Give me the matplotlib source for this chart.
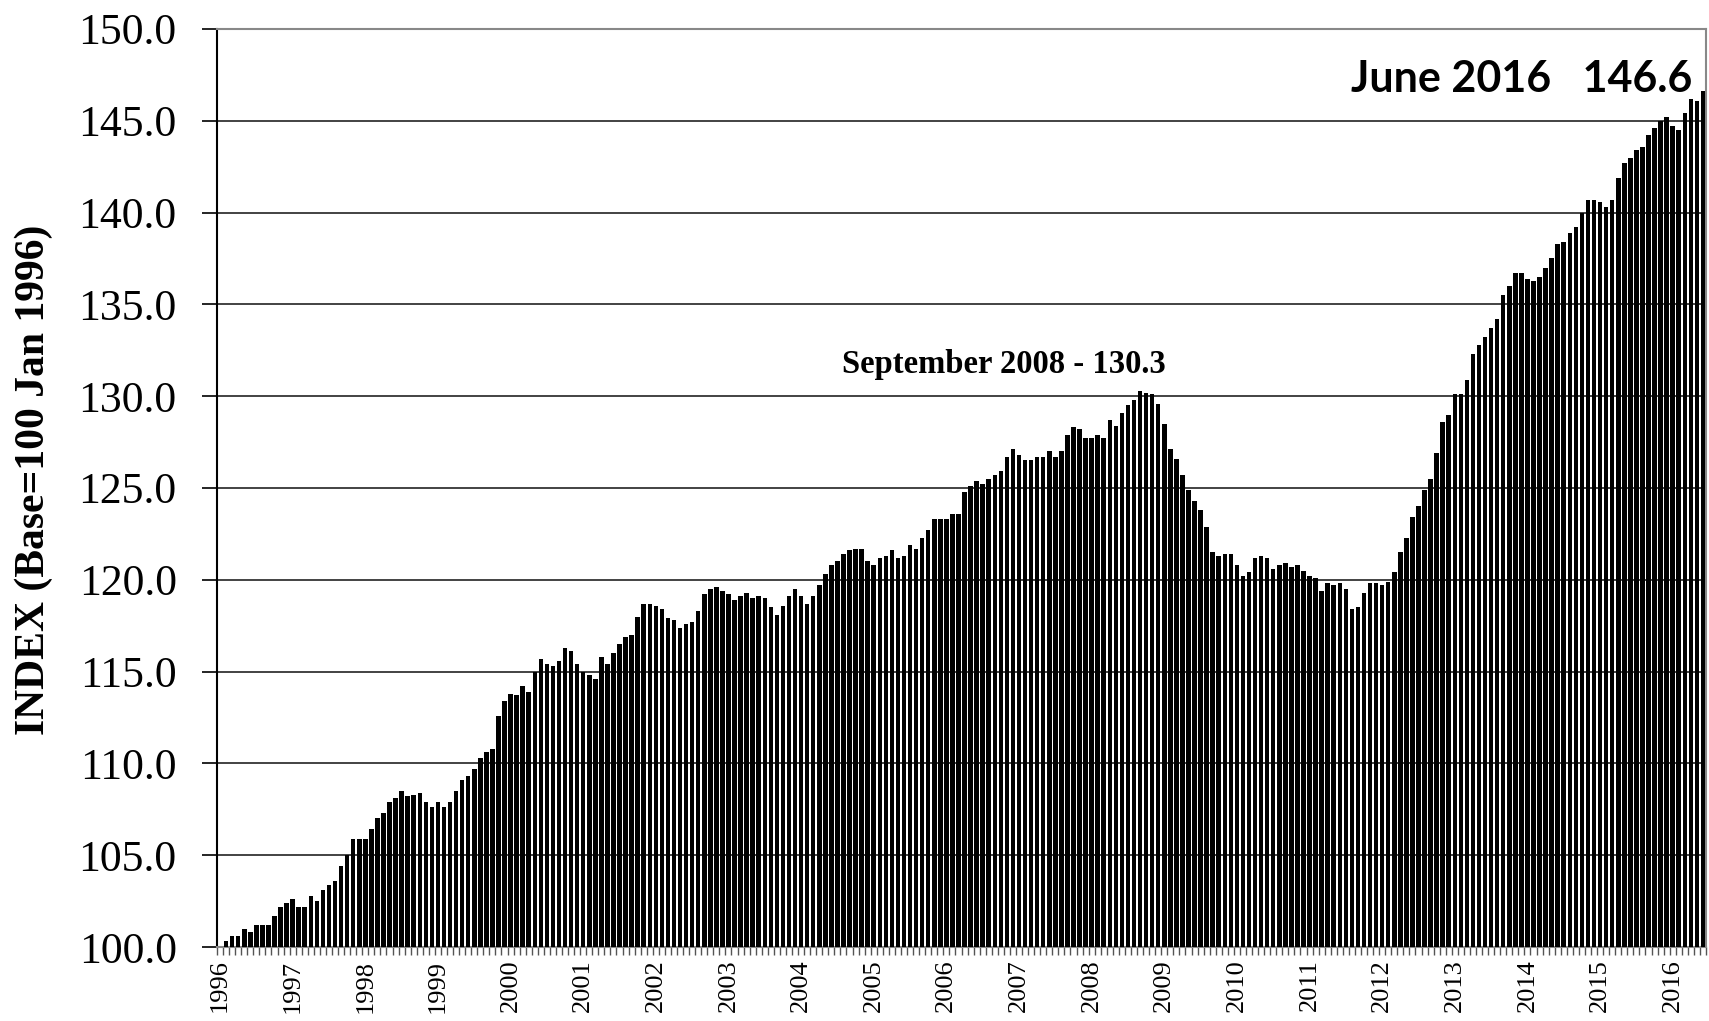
import numpy as np
import matplotlib
matplotlib.use('Agg')
import matplotlib.pyplot as plt
from matplotlib.ticker import FixedLocator, FormatStrFormatter

# monthly index, Jan 1996 .. Jun 2016 (base 100 = Jan 1996)
years = list(range(1996, 2017))
index_values = [
    100.0, 100.3, 100.6, 100.6, 101.0, 100.8, 101.2, 101.2, 101.2, 101.7, 102.2, 102.4,  # 1996
    102.6, 102.2, 102.2, 102.8, 102.5, 103.1, 103.4, 103.6, 104.4, 105.0, 105.9, 105.9,  # 1997
    105.9, 106.4, 107.0, 107.3, 107.9, 108.1, 108.5, 108.2, 108.3, 108.4, 107.9, 107.6,  # 1998
    107.9, 107.6, 107.9, 108.5, 109.1, 109.3, 109.7, 110.3, 110.6, 110.8, 112.6, 113.4,  # 1999
    113.8, 113.7, 114.2, 113.9, 115.0, 115.7, 115.4, 115.3, 115.6, 116.3, 116.1, 115.4,  # 2000
    115.0, 114.8, 114.6, 115.8, 115.4, 116.0, 116.5, 116.9, 117.0, 118.0, 118.7, 118.7,  # 2001
    118.6, 118.4, 117.9, 117.8, 117.4, 117.6, 117.7, 118.3, 119.2, 119.5, 119.6, 119.4,  # 2002
    119.2, 118.9, 119.1, 119.3, 119.0, 119.1, 119.0, 118.5, 118.1, 118.6, 119.1, 119.5,  # 2003
    119.1, 118.7, 119.1, 119.7, 120.3, 120.8, 121.0, 121.4, 121.6, 121.7, 121.7, 121.0,  # 2004
    120.8, 121.2, 121.3, 121.6, 121.2, 121.3, 121.9, 121.7, 122.3, 122.7, 123.3, 123.3,  # 2005
    123.3, 123.6, 123.6, 124.8, 125.1, 125.4, 125.2, 125.5, 125.7, 125.9, 126.7, 127.1,  # 2006
    126.8, 126.5, 126.5, 126.7, 126.7, 127.0, 126.7, 127.0, 127.9, 128.3, 128.2, 127.7,  # 2007
    127.7, 127.9, 127.7, 128.7, 128.4, 129.1, 129.5, 129.8, 130.3, 130.2, 130.1, 129.6,  # 2008
    128.5, 127.1, 126.6, 125.7, 124.9, 124.3, 123.8, 122.9, 121.5, 121.3, 121.4, 121.4,  # 2009
    120.8, 120.2, 120.4, 121.2, 121.3, 121.2, 120.6, 120.8, 120.9, 120.7, 120.8, 120.5,  # 2010
    120.2, 120.1, 119.4, 119.8, 119.7, 119.8, 119.5, 118.4, 118.5, 119.3, 119.8, 119.8,  # 2011
    119.7, 119.9, 120.4, 121.5, 122.3, 123.4, 124.0, 124.9, 125.5, 126.9, 128.6, 129.0,  # 2012
    130.1, 130.1, 130.9, 132.3, 132.8, 133.2, 133.7, 134.2, 135.5, 136.0, 136.7, 136.7,  # 2013
    136.4, 136.3, 136.5, 137.0, 137.5, 138.3, 138.4, 138.9, 139.2, 140.0, 140.7, 140.7,  # 2014
    140.6, 140.3, 140.7, 141.9, 142.7, 143.0, 143.4, 143.6, 144.2, 144.6, 145.0, 145.2,  # 2015
    144.7, 144.5, 145.4, 146.2, 146.1, 146.6,                                              # 2016
]
y_ticks = [100.0, 105.0, 110.0, 115.0, 120.0, 125.0, 130.0, 135.0, 140.0, 145.0, 150.0]

peak_label = 'September 2008 - 130.3'
last_label = 'June 2016   146.6'

serif = ['Liberation Serif', 'DejaVu Serif']

vals = np.array(index_values)
x = np.arange(len(vals))
base = 100.0

fig = plt.figure(figsize=(17.09, 10.21), dpi=100)
ax = fig.add_axes([217 / 1709, 1 - 947 / 1021, 1489 / 1709, 918 / 1021])

ax.bar(x, vals - base, bottom=base, width=0.75, color='black', zorder=3)

ax.set_xlim(-0.5, len(vals) - 0.5)
ax.set_ylim(y_ticks[0], y_ticks[-1])
ax.set_yticks(y_ticks)
ax.yaxis.set_major_formatter(FormatStrFormatter('%.1f'))
ax.grid(axis='y', color='#222222', linewidth=1.2, zorder=0)
ax.set_axisbelow(True)

# year labels at each January, monthly ticks between bars
ax.set_xticks([12 * i for i in range(len(years))])
ax.set_xticklabels([str(y) for y in years], rotation=90, fontsize=19, family=serif)
ax.xaxis.set_minor_locator(FixedLocator(np.arange(-0.5, len(vals), 1.0)))
ax.tick_params(axis='x', which='major', length=0, pad=9)
ax.tick_params(axis='x', which='minor', length=6, width=1, color='#555555')
ax.tick_params(axis='y', length=11, width=1.2, pad=18, labelsize=31.5)
for lab in ax.get_yticklabels():
    lab.set_family(serif)

ax.spines['left'].set_color('black')
ax.spines['left'].set_linewidth(1.5)
for s in ['top', 'right', 'bottom']:
    ax.spines[s].set_color('#888888')
    ax.spines[s].set_linewidth(1.5)

fig.text(34 / 1709, 0.53, 'INDEX (Base=100 Jan 1996)', rotation=90, ha='center', va='center',
         fontsize=30, fontweight='bold', family=serif)

ipk = int(np.argmax(vals[:200]))
ax.text(ipk - 22.5, vals[ipk] + 1.45, peak_label, ha='center', va='center',
        fontsize=23.5, fontweight='bold', family=serif)
ax.text(len(vals) - 2.8, vals[-1] + 0.65, last_label, ha='right', va='center',
        fontsize=31, fontweight='bold', family=['Lato', 'DejaVu Sans'])

fig.savefig('out.png', dpi=100)
